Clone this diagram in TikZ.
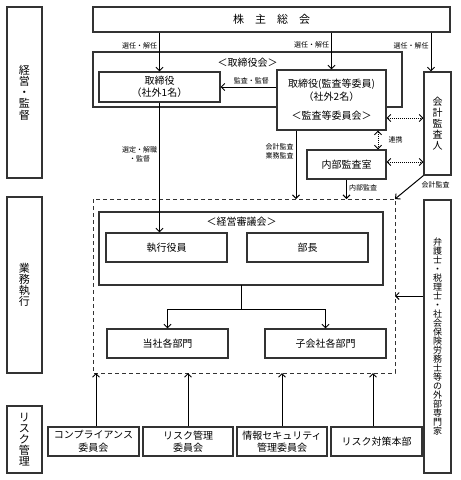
\documentclass[tikz,border=0pt]{standalone}
\usepackage{fontspec}
\setmainfont{Noto Sans CJK JP}
\usetikzlibrary{arrows.meta}
\begin{document}
\begin{tikzpicture}[x=1pt,y=-1pt,>={Straight Barb[length=3.5pt,width=7pt]},line width=1pt,
  box/.style={draw=black!80,fill=white,line width=1.1pt,inner sep=0pt,align=center,font=\fontsize{10}{12.5}\selectfont},
  side/.style={box,minimum width=35pt,font=\fontsize{11}{11.2}\selectfont},
  frame/.style={draw=black!80,line width=1.1pt},
  lbl/.style={font=\fontsize{7}{9}\selectfont,inner sep=2pt,align=center},
  sub/.style={font=\fontsize{10}{12}\selectfont,inner sep=0pt},
  link/.style={<->,densely dotted}]
\useasboundingbox(0,0)rectangle(461,480);
% left column
\node[side,minimum height=171pt](keiei)at(24.5,92.5){経\\営\\・\\監\\督};
\node[side,minimum height=176pt](gyomu)at(24.5,285){業\\務\\執\\行};
\node[side,minimum height=67pt](riskkanri)at(24.5,439.5){リ\\ス\\ク\\管\\理};
% top
\node[box,minimum width=357pt,minimum height=25pt,font=\fontsize{11}{13}\selectfont](kabu)at(271.5,19.5){株　主　総　会};
\draw[frame](93,52)rectangle(402,107);
\node[sub](torititle)at(247.5,63){＜取締役会＞};
\node[box,minimum width=121pt,minimum height=30pt](tori1)at(159.5,87){取締役\\（社外1名）};
\node[box,minimum width=109pt,minimum height=60pt](kansa)at(331.5,100){取締役(監査等委員)\\（社外2名）\\[7pt]＜監査等委員会＞};
\node[box,minimum width=27pt,minimum height=103pt,font=\fontsize{10}{11}\selectfont](kaikei)at(437.5,123.5){会\\計\\監\\査\\人};
\node[box,minimum width=79pt,minimum height=29pt](naibu)at(346.5,164.5){内部監査室};
% execution
\draw[frame,line width=1pt,dash pattern=on 4pt off 3pt](93,199)rectangle(395,373);
\coordinate(dnw)at(93,199);\coordinate(dse)at(395,373);
\draw[frame](99,212)rectangle(383,285);
\coordinate(shingi)at(241.5,285);
\node[sub](shingititle)at(241.5,222){＜経営審議会＞};
\node[box,minimum width=121pt,minimum height=29pt](shikko)at(166.5,247.5){執行役員};
\node[box,minimum width=121pt,minimum height=29pt](bucho)at(307.5,247.5){部長};
\node[box,minimum width=121pt,minimum height=29pt](tosha)at(167.5,343.5){当社各部門};
\node[box,minimum width=121pt,minimum height=29pt](kogaisha)at(325.5,343.5){子会社各部門};
\node[box,minimum width=27pt,minimum height=273pt,font=\fontsize{9}{9}\selectfont](gaibu)at(437.5,336.5){弁\\護\\士\\・\\税\\理\\士\\・\\社\\会\\保\\険\\労\\務\\士\\等\\の\\外\\部\\専\\門\\家};
% risk
\node[box,minimum width=91pt,minimum height=29pt](comp)at(93.5,441.5){コンプライアンス\\委員会};
\node[box,minimum width=90pt,minimum height=29pt](riskiin)at(188,441.5){リスク管理\\委員会};
\node[box,minimum width=90pt,minimum height=29pt](joho)at(282,441.5){情報セキュリティ\\管理委員会};
\node[box,minimum width=91pt,minimum height=29pt](taisaku)at(376.5,441.5){リスク対策本部};
% connectors
\draw[->](kabu.south-|tori1)--node[lbl,left,pos=.33]{選任・解任}(tori1);
\draw[->](kabu.south-|kansa)--node[lbl,left,pos=.34]{選任・解任}(kansa);
\draw[->](kabu.south-|431,0)--node[lbl,left,pos=.33]{選任・解任}(kaikei.north-|431,0);
\draw[->](kansa.west|-tori1.east)--node[lbl,above,pos=.45]{監査・監督}(tori1.east);
\draw[->](tori1.south)--node[lbl,left,pos=.4]{選定・解職\\・監督}(tori1.south|-shikko.north);
\draw[->](kansa.south-|296,0)--node[lbl,left,pos=.3]{会計監査\\業務監査}(dnw-|296,0);
\draw[->](naibu.south)--node[lbl,right,pos=.45]{内部監査}(naibu.south|-dnw);
\draw[->](kaikei.south west)--node[lbl,below right,pos=.15]{会計監査}(dse|-dnw);
\draw[link](kansa.east|-0,118)--(kaikei.west|-0,118);
\draw[link](kansa.south-|378,0)--node[lbl,right,xshift=8pt]{連携}(naibu.north-|378,0);
\draw[link](naibu.east|-0,162)--(kaikei.west|-0,162);
\coordinate(fork)at(0,309);
\draw[->](shingi)|-(tosha.north|-fork)--(tosha.north);
\draw[->](shingi)|-(kogaisha.north|-fork)--(kogaisha.north);
\draw[->](gaibu.west|-0,296)--(dse|-0,296);
\draw[->](comp.north-|96,0)--(dse-|96,0);
\draw[->](riskiin.north)--(riskiin.north|-dse);
\draw[->](joho.north)--(joho.north|-dse);
\draw[->](taisaku.north-|373,0)--(dse-|373,0);
\end{tikzpicture}
\end{document}
